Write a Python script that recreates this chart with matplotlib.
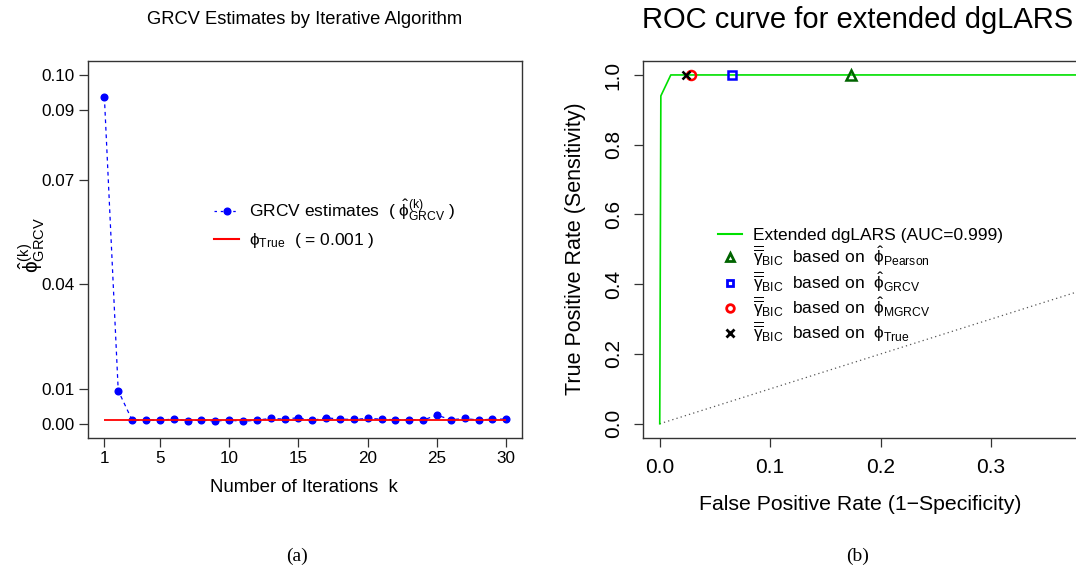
import matplotlib
matplotlib.use("Agg")
import matplotlib.pyplot as plt
from matplotlib.lines import Line2D
import numpy as np

plt.rcParams['font.family'] = ['Liberation Sans', 'DejaVu Sans']
plt.rcParams['mathtext.fontset'] = 'custom'
plt.rcParams['mathtext.rm'] = 'Liberation Sans'
plt.rcParams['mathtext.it'] = 'Liberation Sans:italic'
plt.rcParams['mathtext.bf'] = 'Liberation Sans:bold'
plt.rcParams['mathtext.fallback'] = 'stixsans'

# ---- panel (a): GRCV estimates per iteration
iterations = np.arange(1, 31)
grcv_est = [0.0937, 0.0095, 0.00105, 0.00105, 0.00105, 0.00133, 0.00086, 0.00105,
            0.00076, 0.00105, 0.00067, 0.00105, 0.00152, 0.00133, 0.00172, 0.00095,
            0.00172, 0.00133, 0.00124, 0.00152, 0.00133, 0.00114, 0.00114, 0.00105,
            0.00248, 0.00114, 0.00152, 0.00105, 0.00133, 0.00133]
phi_true = 0.001
a_xticks = [1, 5, 10, 15, 20, 25, 30]
a_yticks = [0.00, 0.01, 0.04, 0.07, 0.09, 0.10]
a_yticklabels = ['0.00', '0.01', '0.04', '0.07', '0.09', '0.10']

# ---- panel (b): ROC curve
roc_fpr = [0.0, 0.001, 0.01, 1.0]
roc_tpr = [0.0, 0.94, 1.0, 1.0]
sel_names = ['Pearson', 'GRCV', 'MGRCV', 'True']
sel_fpr = [0.173, 0.065, 0.028, 0.024]
sel_tpr = [1.0, 1.0, 1.0, 1.0]
b_xticks = [0.0, 0.1, 0.2, 0.3]
b_yticks = [0.0, 0.2, 0.4, 0.6, 0.8, 1.0]

W, H = 1076, 575
fig = plt.figure(figsize=(W / 100, H / 100), dpi=100)


def px(x0, y0, x1, y1):
    # pixel box -> figure fraction rect
    return [x0 / W, 1 - y1 / H, (x1 - x0) / W, (y1 - y0) / H]


def fx(x):
    return x / W


def fy(y):
    return 1 - y / H


frame_col = '#333333'
green = '#00e000'
phi = r'\mathrm{\phi}'
phihat = r'\hat{\mathrm{\phi}}'

# ================= (a) =================
ax1 = fig.add_axes(px(88.3, 61, 522.3, 437.7))
ax1.plot(iterations, grcv_est, color='blue', ls=(0, (3, 3)), lw=0.9,
         marker='o', ms=4.8, mfc='blue', mec='blue')
ax1.hlines(phi_true, iterations[0], iterations[-1], color='red', lw=1.3)
ax1.set_xlim(-0.16, 31.16)
ax1.set_ylim(-0.004, 0.104)
ax1.set_xticks(a_xticks)
ax1.set_yticks(a_yticks)
ax1.set_yticklabels(a_yticklabels)
ax1.tick_params(axis='both', length=6.8, width=0.9, color=frame_col, labelsize=12.3, pad=2.9)
for s in ax1.spines.values():
    s.set_color(frame_col)
    s.set_linewidth(1.0)

h1 = [Line2D([], [], color='blue', ls=(0, (2, 3)), lw=0.9, marker='o', ms=4.8),
      Line2D([], [], color='red', lw=1.5)]
l1 = [r'GRCV estimates  ( $' + phihat + r'^{\mathrm{(k)}}_{\mathrm{GRCV}}$ )',
      r'$' + phi + r'_{\mathrm{True}}$  ( = 0.001 )']
ax1.legend(h1, l1, loc='center left', bbox_to_anchor=(fx(214.3), fy(224)),
           bbox_transform=fig.transFigure, frameon=False, fontsize=12.5,
           borderpad=0, borderaxespad=0, handlelength=1.42, handletextpad=0.6,
           labelspacing=0.45)

fig.text(fx(305), fy(20), 'GRCV Estimates by Iterative Algorithm', ha='center', va='center', fontsize=13.2)
fig.text(fx(304), fy(487), 'Number of Iterations  k', ha='center', va='center', fontsize=13.4)
fig.text(fx(32), fy(245), r'$' + phihat + r'^{\mathrm{(k)}}_{\mathrm{GRCV}}$', ha='center', va='center',
         rotation=90, fontsize=15)

# ================= (b) =================
ax2 = fig.add_axes(px(643.3, 61, 1087, 437.7))
ax2.plot([0, 1], [0, 1], color='#555555', ls=(0, (1, 2.5)), lw=0.9)
ax2.plot(roc_fpr, roc_tpr, color=green, lw=1.2)
ax2.plot(sel_fpr[0], sel_tpr[0], ls='none', marker='^', ms=7.5, mfc='none', mec='darkgreen', mew=1.8)
ax2.plot(sel_fpr[1], sel_tpr[1], ls='none', marker='s', ms=6, mfc='none', mec='blue', mew=1.8)
ax2.plot(sel_fpr[2], sel_tpr[2], ls='none', marker='o', ms=6.5, mfc='none', mec='red', mew=1.8)
ax2.plot(sel_fpr[3], sel_tpr[3], ls='none', marker='x', ms=6, mec='black', mew=1.8)
ax2.set_xlim(-0.0149, 0.387)
ax2.set_ylim(-0.04, 1.04)
ax2.set_xticks(b_xticks)
ax2.set_yticks(b_yticks)
ax2.set_xticklabels(['0.0', '0.1', '0.2', '0.3'])
ax2.set_yticklabels(['0.0', '0.2', '0.4', '0.6', '0.8', '1.0'], rotation=90, va='center')
ax2.tick_params(axis='both', length=6.8, width=0.9, color=frame_col, labelsize=15, pad=8.0)
for s in ax2.spines.values():
    s.set_color(frame_col)
    s.set_linewidth(1.0)

gam = r'$\overline{\overline{\mathrm{\gamma}}}_{\mathrm{BIC}}$'
h2 = [Line2D([], [], color=green, lw=1.5),
      Line2D([], [], ls='none', marker='^', ms=6, mfc='none', mec='darkgreen', mew=2),
      Line2D([], [], ls='none', marker='s', ms=5, mfc='none', mec='blue', mew=2),
      Line2D([], [], ls='none', marker='o', ms=5.5, mfc='none', mec='red', mew=2),
      Line2D([], [], ls='none', marker='x', ms=5.5, mec='black', mew=2)]
l2 = ['Extended dgLARS (AUC=0.999)'] + \
     [gam + r'  based on  $' + (phihat if n != 'True' else phi) + r'_{\mathrm{' + n + r'}}$'
      for n in sel_names]
ax2.legend(h2, l2, loc='center left', bbox_to_anchor=(fx(717.7), fy(286)),
           bbox_transform=fig.transFigure, frameon=False, fontsize=12.5,
           borderpad=0, borderaxespad=0, handlelength=1.42, handletextpad=0.64,
           labelspacing=0.05)

fig.text(fx(858), fy(20), 'ROC curve for extended dgLARS', ha='center', va='center', fontsize=21)
fig.text(fx(860), fy(505), 'False Positive Rate (1\u2212Specificity)', ha='center', va='center', fontsize=15.3)
fig.text(fx(575), fy(249), 'True Positive Rate (Sensitivity)', ha='center', va='center',
         rotation=90, fontsize=15.5)

# panel captions
fig.text(fx(297), fy(556), '(a)', ha='center', va='center', fontsize=14, family='Liberation Serif')
fig.text(fx(858), fy(556), '(b)', ha='center', va='center', fontsize=14, family='Liberation Serif')

fig.savefig('out.png', dpi=100)
